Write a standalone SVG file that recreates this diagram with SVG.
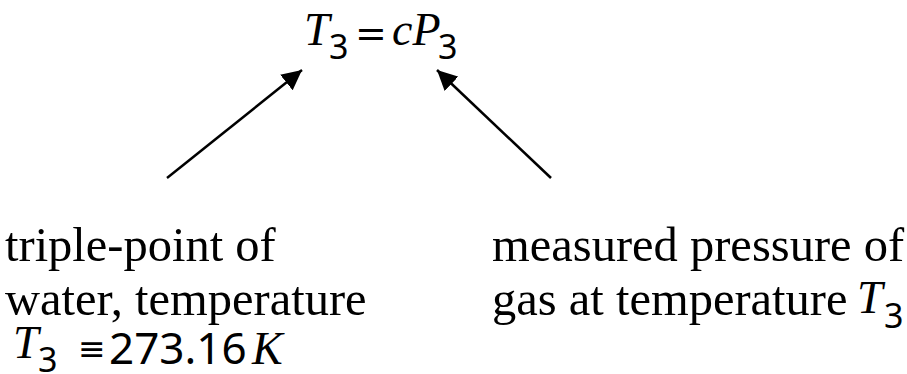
<svg xmlns="http://www.w3.org/2000/svg" width="907" height="374" viewBox="0 0 907 374">
<defs>
<style>
.t{font-family:"Liberation Serif","Times New Roman",serif;font-size:48.5px;fill:#000}
.i{font-family:"Liberation Serif","Times New Roman",serif;font-style:italic;font-size:46px;fill:#000}
.s{font-family:"Noto Sans","DejaVu Sans",sans-serif;font-size:34px;fill:#000}
.n{font-family:"Noto Sans","DejaVu Sans",sans-serif;font-size:44px;fill:#000}
.q{font-family:"DejaVu Sans",sans-serif;font-size:38px;fill:#000}
.e{font-family:"DejaVu Sans",sans-serif;font-size:33px;fill:#000}
.c{stroke:#000;stroke-width:2.5;fill:none}
</style>
<marker id="ah" viewBox="0 0 10 10" refX="10" refY="5" markerWidth="8" markerHeight="8" markerUnits="strokeWidth" orient="auto">
<path d="M0,0L10,5L0,10z" fill="#000"/>
</marker>
</defs>
<rect width="907" height="374" fill="#fff"/>
<g id="equation">
<text class="i" x="304" y="45">T</text>
<text class="s" x="329" y="59">3</text>
<text class="q" x="355" y="46">=</text>
<text class="i" x="392" y="45">cP</text>
<text class="s" x="438" y="59">3</text>
</g>
<g id="left-label">
<text class="t" x="5" y="261">triple-point of</text>
<text class="t" x="5" y="315">water, temperature</text>
<text class="i" x="13" y="358">T</text>
<text class="s" x="38" y="372">3</text>
<text class="e" x="78" y="360">≡</text>
<text class="n" x="109" y="364">273.16</text>
<text class="i" x="252" y="364">K</text>
</g>
<g id="right-label">
<text class="t" x="492" y="261">measured pressure of</text>
<text class="t" x="492" y="315">gas at temperature</text>
<text class="i" x="857" y="313">T</text>
<text class="s" x="884" y="328">3</text>
</g>
<g id="connectors">
<line class="c" x1="167" y1="178" x2="302" y2="70" marker-end="url(#ah)"/>
<line class="c" x1="551" y1="178" x2="437" y2="70" marker-end="url(#ah)"/>
</g>
</svg>
